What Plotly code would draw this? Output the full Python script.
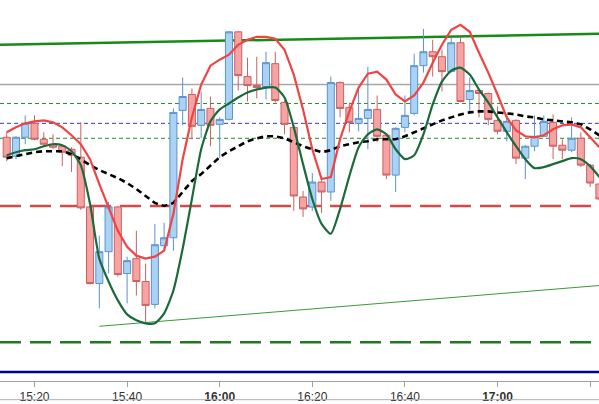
import pandas as pd
import plotly.graph_objects as go

# 2-minute bars, 15:14 .. 17:22
times = pd.date_range("2024-01-15 15:14", periods=65, freq="2min")

opens = [4262, 4243, 4262, 4276, 4260, 4255, 4253, 4250, 4242, 4192, 4115, 4147, 4192, 4125, 4140, 4117,
         4094, 4153, 4161, 4289, 4305, 4274, 4291, 4275, 4280, 4368, 4323, 4314, 4313, 4336, 4297, 4272,
         4202, 4192, 4217, 4207, 4317, 4292, 4276, 4281, 4290, 4264, 4224, 4272, 4286, 4334, 4348, 4343,
         4328, 4357, 4300, 4309, 4306, 4279, 4268, 4279, 4241, 4253, 4263, 4277, 4254, 4249, 4261, 4234, 4215]
highs = [4267, 4263, 4284, 4284, 4267, 4265, 4254, 4252, 4277, 4193, 4163, 4197, 4193, 4142, 4168, 4135,
         4175, 4176, 4291, 4322, 4311, 4308, 4303, 4282, 4369, 4369, 4342, 4343, 4348, 4348, 4299, 4274,
         4208, 4226, 4222, 4323, 4318, 4297, 4310, 4333, 4304, 4264, 4272, 4304, 4346, 4371, 4360, 4350,
         4362, 4362, 4322, 4310, 4307, 4293, 4285, 4280, 4254, 4284, 4284, 4285, 4260, 4282, 4267, 4235, 4216]
lows = [4238, 4240, 4255, 4259, 4253, 4250, 4233, 4227, 4189, 4114, 4090, 4125, 4122, 4095, 4103, 4075,
        4090, 4147, 4148, 4274, 4260, 4261, 4253, 4241, 4279, 4309, 4298, 4301, 4300, 4297, 4265, 4188,
        4182, 4188, 4186, 4198, 4282, 4267, 4268, 4250, 4257, 4220, 4207, 4267, 4284, 4327, 4323, 4308,
        4327, 4297, 4288, 4282, 4274, 4265, 4258, 4235, 4220, 4248, 4262, 4240, 4240, 4247, 4232, 4212, 4198]
closes = [4242, 4262, 4276, 4260, 4255, 4252, 4247, 4244, 4191, 4115, 4147, 4192, 4124, 4138, 4117, 4093,
          4154, 4161, 4287, 4303, 4273, 4290, 4274, 4280, 4368, 4324, 4314, 4312, 4337, 4299, 4275, 4203,
          4190, 4217, 4207, 4317, 4291, 4277, 4281, 4290, 4263, 4224, 4271, 4284, 4334, 4348, 4343, 4328,
          4357, 4298, 4309, 4306, 4280, 4268, 4278, 4241, 4253, 4263, 4278, 4253, 4249, 4261, 4234, 4216, 4200]

fast_line = [4267, 4272, 4276, 4278, 4279, 4277, 4272, 4264, 4255, 4240, 4215, 4192, 4168, 4152, 4143, 4140,
             4142, 4148, 4185, 4240, 4282, 4315, 4334, 4340, 4345, 4355, 4360, 4363, 4363, 4361, 4350, 4325,
             4290, 4250, 4220, 4222, 4260, 4288, 4312, 4326, 4328, 4320, 4305, 4298, 4304, 4317, 4337, 4355,
             4370, 4375, 4368, 4347, 4327, 4305, 4282, 4269, 4263, 4262, 4264, 4270, 4274, 4275, 4272, 4262, 4252]
osc_line = [4244, 4247, 4249, 4250, 4253, 4255, 4254, 4248, 4234, 4195, 4140, 4117, 4098, 4084, 4078, 4075,
            4075, 4085, 4108, 4150, 4200, 4250, 4278, 4290, 4296, 4302, 4307, 4310, 4312, 4312, 4302, 4272,
            4235, 4200, 4175, 4165, 4190, 4223, 4252, 4265, 4270, 4265, 4250, 4240, 4244, 4265, 4295, 4318,
            4329, 4332, 4325, 4310, 4297, 4282, 4267, 4253, 4240, 4231, 4232, 4235, 4238, 4241, 4240, 4233, 4222]
slow_line = [4241, 4243, 4245, 4247, 4248, 4248, 4248, 4245, 4240, 4234, 4229, 4225, 4221, 4216, 4210, 4203,
             4196, 4193, 4196, 4207, 4218, 4225, 4234, 4242, 4248, 4253, 4258, 4261, 4263, 4263, 4261, 4257,
             4253, 4250, 4247, 4249, 4253, 4255, 4257, 4258, 4260, 4260, 4260, 4263, 4267, 4271, 4275, 4279,
             4282, 4285, 4287, 4288, 4288, 4287, 4286, 4285, 4283, 4282, 4280, 4279, 4278, 4277, 4275, 4270, 4264]

# horizontal levels
level_gray = 4315
level_green_hi = 4296
level_pivot = 4276
level_green_lo = 4261
level_red = 4193
level_green_support = 4056
level_navy = 4026
# trend lines (start time, start price, end time, end price)
upper_trend = ("2024-01-15 15:12:30", 4355, "2024-01-15 17:22:00", 4366)
lower_trend = ("2024-01-15 15:34:00", 4072, "2024-01-15 17:22:00", 4113)

tick_times = ["2024-01-15 15:20", "2024-01-15 15:40", "2024-01-15 16:00", "2024-01-15 16:20",
              "2024-01-15 16:40", "2024-01-15 17:00", "2024-01-15 17:20"]
tick_text = ["15:20", "15:40", "<b>16:00</b>", "16:20", "16:40", "<b>17:00</b>", "17:20"]

fig = go.Figure()
fig.add_trace(go.Candlestick(
    x=times, open=opens, high=highs, low=lows, close=closes,
    increasing=dict(fillcolor="#a9d2f5", line=dict(color="#5b93cc", width=1)),
    decreasing=dict(fillcolor="#f5a3a3", line=dict(color="#cc6060", width=1)),
    whiskerwidth=0, showlegend=False, hoverinfo="skip"))
fig.add_trace(go.Scatter(x=times, y=slow_line, mode="lines",
                         line=dict(color="#000000", width=2.6, dash="6px,4px"),
                         showlegend=False, hoverinfo="skip"))
fig.add_trace(go.Scatter(x=times, y=osc_line, mode="lines",
                         line=dict(color="#1b6b3a", width=2.2, shape="spline", smoothing=0.6),
                         showlegend=False, hoverinfo="skip"))
fig.add_trace(go.Scatter(x=times, y=fast_line, mode="lines",
                         line=dict(color="#f04444", width=2.2),
                         showlegend=False, hoverinfo="skip"))

shapes = []
def hline(y, color, width, dash="solid"):
    shapes.append(dict(type="line", xref="paper", x0=0, x1=1, yref="y", y0=y, y1=y,
                       line=dict(color=color, width=width, dash=dash), layer="below"))

hline(level_gray, "#a8a8a8", 1.5)
hline(level_green_hi, "#2a8a2a", 1, "4px,3px")
hline(level_pivot, "#3a3ab0", 1, "4px,3px")
hline(level_green_lo, "#2a8a2a", 1, "4px,3px")
hline(level_red, "#d94848", 2.5, "21px,9px")
hline(level_green_support, "#1f7a1f", 2.5, "21px,9px")
hline(level_navy, "#00008b", 2.5)
for (t0, p0, t1, p1), col, w in [(upper_trend, "#178a17", 2.5), (lower_trend, "#3a9a3a", 1)]:
    shapes.append(dict(type="line", xref="x", yref="y", x0=t0, y0=p0, x1=t1, y1=p1,
                       line=dict(color=col, width=w), layer="below"))
# bottom frame line
shapes.append(dict(type="line", xref="paper", yref="paper", x0=0, x1=1, y0=-0.049, y1=-0.049,
                   line=dict(color="#b0b0b0", width=1)))

fig.update_layout(
    width=599, height=404,
    margin=dict(l=0, r=0, t=0, b=21),
    paper_bgcolor="white", plot_bgcolor="white",
    boxgap=0.2, boxgroupgap=0.05,
    shapes=shapes,
    xaxis=dict(type="date", range=["2024-01-15 15:12:33", "2024-01-15 17:21:55"],
               rangeslider=dict(visible=False), showgrid=False, zeroline=False,
               tickvals=tick_times, ticktext=tick_text, ticks="outside", ticklen=5,
               tickcolor="#a0a0a0", showline=True, linecolor="#a0a0a0", linewidth=1,
               tickfont=dict(family="Liberation Sans, Arial", size=12, color="#333333")),
    yaxis=dict(range=[4017, 4400], visible=False, showgrid=False, zeroline=False),
)
fig.write_html("out.html", config={"displayModeBar": False},
               post_script="document.body.style.margin='0px';document.body.style.overflow='hidden';")
